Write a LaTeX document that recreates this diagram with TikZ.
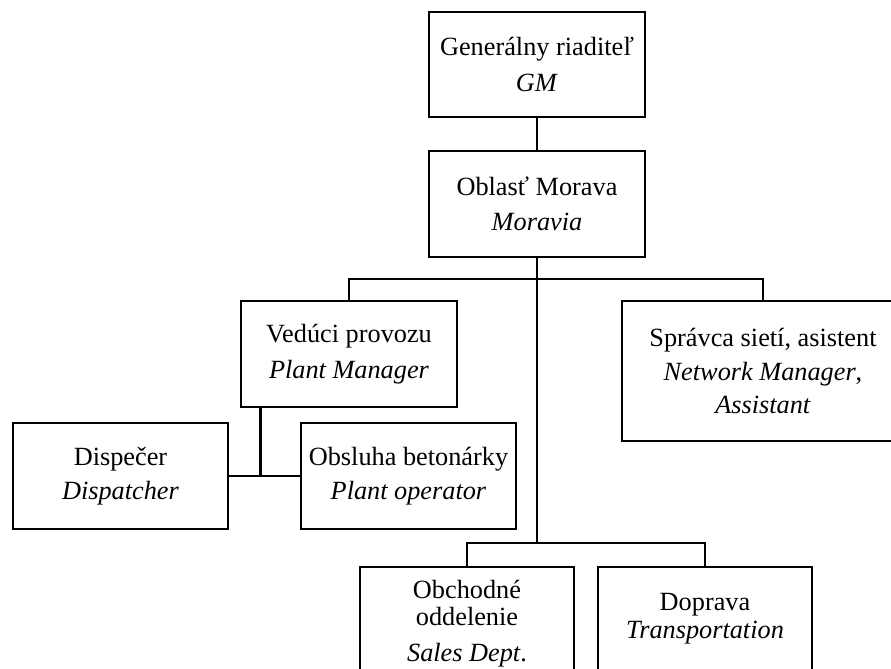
\documentclass[tikz,border=0pt]{standalone}
\usepackage{fontspec}
\setmainfont{Liberation Serif}
\begin{document}
\begin{tikzpicture}[line cap=rect,
  box/.style={draw,line width=2pt,align=center,inner sep=0pt,
    font=\fontsize{18.7}{24.2}\selectfont},
  link/.style={line width=2pt}]
%\draw[step=1cm,very thin,color=gray] (0,0) grid (22,16);
\useasboundingbox (0,0) rectangle (22.275,16.7);
\clip (0,0) rectangle (22.275,16.7);
\node[box,minimum width=5.4cm,minimum height=2.625cm] (gm) at (13.425,15.0875) {Generálny riaditeľ\\[1pt]\textit{GM}};
\node[box,minimum width=5.4cm,minimum height=2.65cm] (mor) at (13.425,11.6) {Oblasť Morava\\[1pt]\textit{Moravia}};
\node[box,minimum width=5.4cm,minimum height=2.65cm] (pm) at (8.725,7.85) {Vedúci provozu\\[1pt]\textit{Plant Manager}};
\node[box,minimum width=7.05cm,minimum height=3.5cm] (net) at (19.075,7.425) {Správca sietí, asistent\\\textit{Network Manager},\\[-1pt]\textit{Assistant}};
\node[box,minimum width=5.375cm,minimum height=2.65cm] (disp) at (3.0125,4.8) {Dispečer\\\textit{Dispatcher}};
\node[box,minimum width=5.375cm,minimum height=2.65cm] (op) at (10.2125,4.8) {Obsluha betonárky\\\textit{Plant operator}};
\node[box,minimum width=5.35cm,minimum height=2.825cm] (sales) at (11.675,1.1125) {Obchodné\\[-5pt]oddelenie\\[1.4pt]\textit{Sales Dept}.};
\node[box,minimum width=5.35cm,minimum height=2.575cm] (trans) at (17.625,1.2375) {Doprava\\[-4pt]\textit{Transportation}};
% branch points
\coordinate (split) at (13.425,9.725);
\coordinate (split2) at (13.425,3.125);
\coordinate (pmleg) at ([xshift=0.525cm]pm.south west);
\draw[link] (gm.south) -- (mor.north);
\draw[link] (mor.south) -- (split2);
\draw[link] (pm.north) |- (split) -| (net.north);
\draw[link] (sales.north) |- (split2) -| (trans.north);
\draw[link] (disp.east) -- (op.west);
\draw[link] (pmleg) -- (pmleg |- disp.east);
\end{tikzpicture}
\end{document}
